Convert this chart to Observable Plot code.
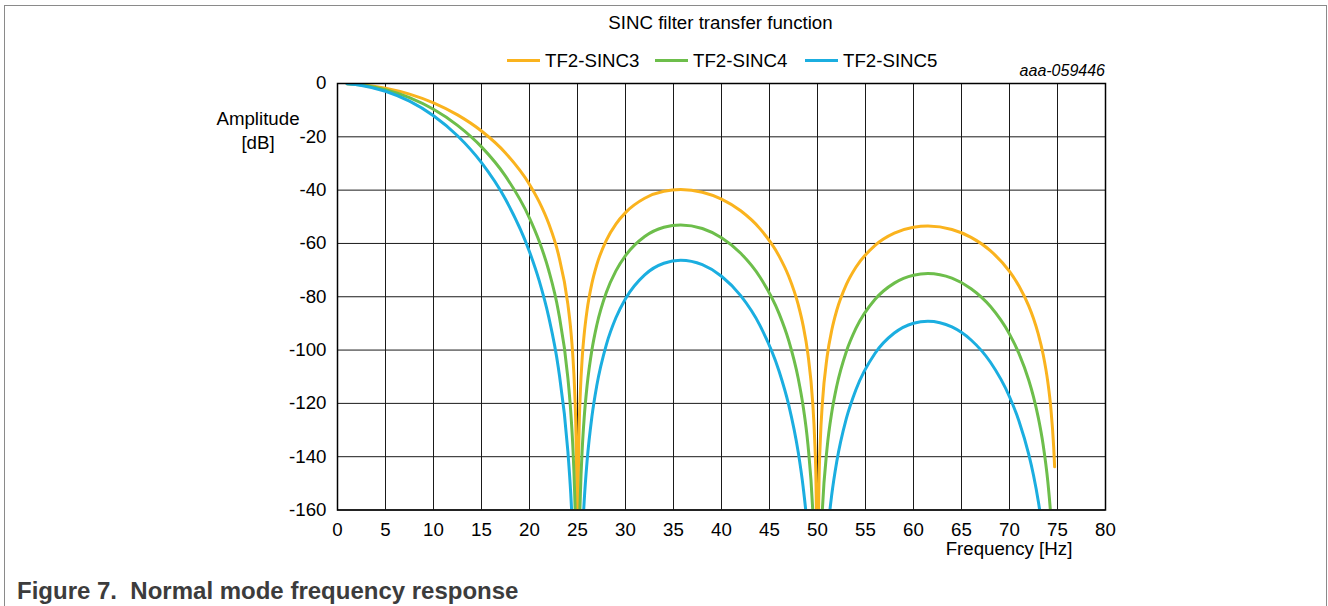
<!DOCTYPE html>
<html>
<head>
<meta charset="utf-8">
<script src="https://cdn.jsdelivr.net/npm/d3@7"></script>
<script src="https://cdn.jsdelivr.net/npm/@observablehq/plot@0.6"></script>
<style>
  html, body { margin: 0; padding: 0; background: #fff; overflow: hidden; }
  body { width: 1328px; height: 606px; position: relative; font-family: "Liberation Sans", Arial, sans-serif; color: #000; }
  .abs { position: absolute; white-space: nowrap; line-height: 1; }
  #border { position: absolute; left: 4px; top: 5px; width: 1321px; height: 700px; border: 1px solid #8a8a8a; border-bottom: none; box-sizing: content-box; }
  #chart { position: absolute; left: 0; top: 0; }
  #chart svg { overflow: visible; }
  .legend-item { position: absolute; top: 51px; display: flex; align-items: center; font-size: 18.7px; line-height: 19px; }
  .legend-item .sw { width: 33px; height: 3px; margin-right: 5px; }
</style>
</head>
<body>
<div id="border"></div>
<div id="chart"></div>
<div class="abs" id="title" style="left:0; width:1441px; text-align:center; top:14px; font-size:18.7px;">SINC filter transfer function</div>
<div id="legend"></div>
<div class="abs" style="right:223px; top:62.5px; font-size:16px; font-style:italic;">aaa-059446</div>
<div class="abs" style="left:158px; width:200px; text-align:center; top:107px; font-size:18.7px; line-height:23.5px;">Amplitude<br>[dB]</div>
<div class="abs" style="left:809px; width:400px; text-align:center; top:540px; font-size:18.7px;">Frequency [Hz]</div>
<div class="abs" style="left:17px; top:579px; font-size:24px; font-weight:bold; color:#3c3c3c;">Figure 7.&nbsp;&nbsp;Normal mode frequency response</div>
<script>
// ---- data ----
const seriesNames = ["TF2-SINC3", "TF2-SINC4", "TF2-SINC5"];
const seriesColors = ["#FAB31E", "#6DBE4B", "#1BAEE0"];
const xTicks = [0, 5, 10, 15, 20, 25, 30, 35, 40, 45, 50, 55, 60, 65, 70, 75, 80];
const yTicks = [0, -20, -40, -60, -80, -100, -120, -140, -160];

const freq = [1, 2.5, 5, 7.5, 10, 12.5, 15, 17.5, 20, 21, 22, 23, 24, 24.3, 24.5, 24.7, 24.85, 24.95, 25,
  25.05, 25.15, 25.3, 25.5, 25.7, 26, 26.5, 27, 28, 29, 30, 32, 34, 35.75, 38, 40, 42, 44, 46, 47, 48, 48.5, 49,
  49.5, 49.7, 49.85, 49.9, 50, 50.1, 50.15, 50.3, 50.5, 51, 51.5, 52, 53, 54, 56, 58, 60, 61.5, 64, 66, 68, 70,
  71, 72, 72.5, 73, 73.5, 74, 74.3, 74.6, 74.7];

const sinc3 = [-0.07, -0.43, -1.74, -3.98, -7.26, -11.77, -17.83, -26.06, -37.86, -44.32, -52.54, -63.92, -82.88,
  -92.46, -101.43, -114.94, -133.16, -161.89, -300, -161.99, -133.47, -115.57, -102.47, -93.92, -84.97, -74.99,
  -68.09, -58.82, -52.73, -48.43, -43.05, -40.45, -39.79, -40.79, -43.38, -47.76, -54.44, -64.75, -72.32, -83.09,
  -90.74, -101.48, -119.75, -133.16, -151.29, -167.89, -300, -167.99, -151.45, -133.47, -120.28, -102.52, -92.30,
  -85.17, -75.45, -68.93, -60.72, -56.17, -53.95, -53.49, -54.79, -57.73, -62.69, -70.51, -76.06, -83.43, -88.17,
  -94.01, -101.57, -112.22, -121.58, -136.25, -143.78];

const sinc4 = [-0.09, -0.57, -2.32, -5.30, -9.68, -15.69, -23.77, -34.74, -50.48, -59.09, -70.05, -85.22, -110.51,
  -123.28, -135.24, -153.26, -177.54, -215.85, -300, -215.99, -177.96, -154.09, -136.63, -125.23, -113.29, -99.98,
  -90.79, -78.43, -70.30, -64.57, -57.40, -53.93, -53.05, -54.39, -57.84, -63.68, -72.58, -86.33, -96.42, -110.78,
  -120.98, -135.31, -159.67, -177.55, -201.72, -223.85, -300, -223.99, -201.93, -177.96, -160.37, -136.70, -123.06,
  -113.56, -100.60, -91.90, -80.96, -74.89, -71.93, -71.32, -73.05, -76.98, -83.59, -94.01, -101.41, -111.24,
  -117.56, -125.35, -135.42, -149.63, -162.11, -181.67, -191.70];

const sinc5 = [-0.11, -0.72, -2.90, -6.63, -12.10, -19.61, -29.71, -43.43, -63.10, -73.87, -87.57, -106.53, -138.14,
  -154.10, -169.06, -191.57, -221.93, -269.82, -300, -269.99, -222.45, -192.61, -170.79, -156.54, -141.61, -124.98,
  -113.49, -98.04, -87.88, -80.71, -71.76, -67.42, -66.31, -67.99, -72.31, -79.60, -90.73, -107.92, -120.53,
  -138.48, -151.23, -169.14, -199.59, -221.94, -252.16, -279.81, -300, -279.99, -252.42, -222.46, -200.46, -170.87,
  -153.83, -141.96, -125.75, -114.88, -101.20, -93.62, -89.92, -89.16, -91.32, -96.22, -104.49, -117.51, -126.77,
  -139.06, -146.96, -156.69, -169.28, -187.04, -202.64, -227.09, -239.63];

// ---- build table ----
const allSeries = [sinc3, sinc4, sinc5];
const rows = [];
allSeries.forEach((vals, i) => {
  vals.forEach((v, j) => rows.push({f: freq[j], v, s: seriesNames[i]}));
});

const fmt = d => `${d}`;
const lineMarks = seriesNames.map((name, i) =>
  Plot.line(rows.filter(r => r.s === name), {
    x: "f", y: "v", stroke: seriesColors[i], strokeWidth: 3, curve: "monotone-x", clip: true
  })
);

const chart = Plot.plot({
  width: 1328,
  height: 570,
  marginLeft: 337,
  marginRight: 223,
  marginTop: 83,
  marginBottom: 60.5,
  style: {fontFamily: '"Liberation Sans", Arial, sans-serif', fontSize: "18.7px", color: "#000", background: "transparent"},
  x: {domain: [0, 80], ticks: xTicks},
  y: {domain: [-160, 0], ticks: yTicks},
  marks: [
    Plot.gridX(xTicks, {stroke: "#1a1a1a", strokeOpacity: 1, strokeWidth: 1}),
    Plot.gridY(yTicks, {stroke: "#1a1a1a", strokeOpacity: 1, strokeWidth: 1}),
    ...lineMarks,
    Plot.frame({stroke: "#000", strokeWidth: 1.5}),
    Plot.axisX(xTicks, {tickSize: 0, tickPadding: 12.5, tickFormat: fmt, label: null, fontSize: 18.7}),
    Plot.axisY(yTicks, {tickSize: 0, tickPadding: 11, tickFormat: fmt, label: null, fontSize: 18.7})
  ]
});
document.getElementById("chart").appendChild(chart);

// ---- legend ----
const legendLeft = [507, 655, 805];
const legend = document.getElementById("legend");
seriesNames.forEach((name, i) => {
  const item = document.createElement("div");
  item.className = "legend-item";
  item.style.left = legendLeft[i] + "px";
  const sw = document.createElement("span");
  sw.className = "sw";
  sw.style.background = seriesColors[i];
  const tx = document.createElement("span");
  tx.textContent = name;
  item.appendChild(sw);
  item.appendChild(tx);
  legend.appendChild(item);
});
</script>
</body>
</html>
